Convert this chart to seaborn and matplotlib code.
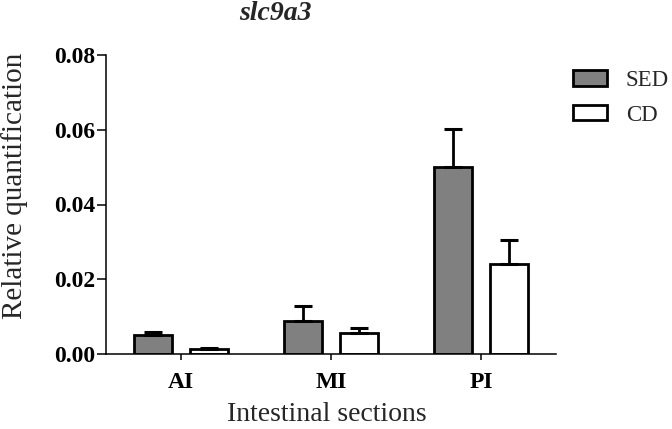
import numpy as np
import pandas as pd
import matplotlib
matplotlib.use("Agg")
import matplotlib.pyplot as plt
from matplotlib.patches import Patch
import seaborn as sns

# data
sections = ["AI", "MI", "PI"]
diets = ["SED", "CD"]
sed_mean = [0.0051, 0.0089, 0.0500]
sed_err = [0.0009, 0.0040, 0.0101]
cd_mean = [0.0013, 0.0055, 0.0242]
cd_err = [0.0004, 0.0015, 0.0063]
y_ticks = [0.00, 0.02, 0.04, 0.06, 0.08]

colors = {"SED": "#808080", "CD": "white"}

df = pd.DataFrame({
    "section": sections * 2,
    "diet": ["SED"] * 3 + ["CD"] * 3,
    "value": sed_mean + cd_mean,
    "err": sed_err + cd_err,
})

sns.set_theme(style="ticks")
plt.rcParams["font.family"] = ["Liberation Serif", "DejaVu Serif"]

fig = plt.figure(figsize=(6.72, 4.29), dpi=100)
ax = fig.add_axes([106 / 672, 1 - 354 / 429, 450 / 672, 299 / 429])

sns.barplot(
    data=df, x="section", y="value", hue="diet", order=sections, hue_order=diets,
    palette=colors, errorbar=None, width=0.747, gap=0.313,
    edgecolor="black", linewidth=2.0, saturation=1, legend=False, ax=ax,
)

# one-sided error bars (upper only), like the original
for diet, cont in zip(diets, ax.containers):
    sub = df[df["diet"] == diet].set_index("section").loc[sections]
    xs = [b.get_x() + b.get_width() / 2 for b in cont]
    ax.errorbar(xs, sub["value"], yerr=[np.zeros(len(xs)), sub["err"]],
                fmt="none", ecolor="black", elinewidth=2.0, capsize=6.5,
                capthick=2.2, zorder=1)

ax.set_xlim(-0.5, 2.5)
ax.set_ylim(0, 0.08)
ax.set_yticks(y_ticks)
ax.set_yticklabels([f"{t:.2f}" for t in y_ticks])
ax.set_xlabel("")
ax.set_ylabel("")
sns.despine(ax=ax)
for s in ["left", "bottom"]:
    ax.spines[s].set_linewidth(1.1)
    ax.spines[s].set_color("black")
ax.tick_params(axis="y", direction="out", length=6.5, width=1.1, pad=1,
               labelsize=17, colors="black")
ax.tick_params(axis="x", direction="out", length=4.3, width=1.1, pad=9,
               labelsize=17, colors="black")
for lab in ax.get_xticklabels() + ax.get_yticklabels():
    lab.set_fontweight("bold")

fig.text(275 / 672, 1 - 14 / 429, "slc9a3", ha="center", va="center",
         fontsize=20, fontweight="bold", fontstyle="italic")
fig.text(15 / 672, 1 - 186 / 429, "Relative quantification", ha="center",
         va="center", rotation=90, fontsize=21)
fig.text(327 / 672, 2 / 429, "Intestinal sections", ha="center",
         va="bottom", fontsize=20)

handles = [Patch(facecolor=colors[d], edgecolor="black", linewidth=2.0) for d in diets]
ax.legend(handles, diets, loc="upper left", bbox_to_anchor=(573 / 672, 1 - 70 / 429),
          bbox_transform=fig.transFigure, frameon=False, fontsize=16.5,
          handlelength=1.5, handleheight=0.65, handletextpad=0.8,
          labelspacing=0.6, borderpad=0, borderaxespad=0)

fig.savefig("out.png", dpi=100)
